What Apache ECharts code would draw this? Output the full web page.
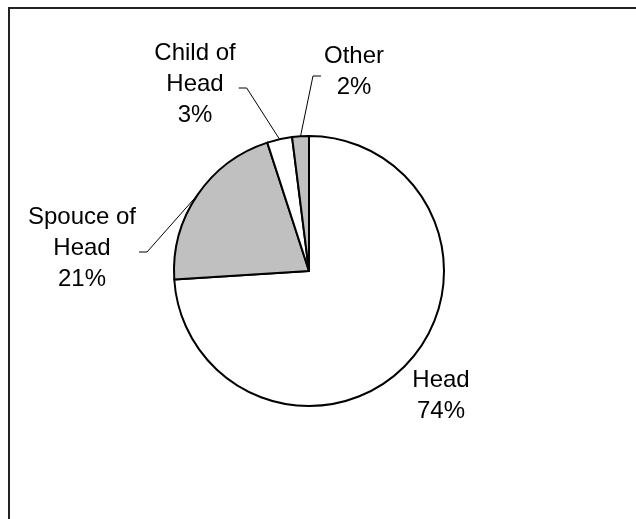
<!DOCTYPE html>
<html>
<head>
<meta charset="utf-8">
<style>
  html, body { margin: 0; padding: 0; background: #fff; }
  #chart { width: 636px; height: 519px; }
</style>
<script src="https://cdn.jsdelivr.net/npm/echarts@6/dist/echarts.min.js"></script>
</head>
<body>
<div id="chart"></div>
<script>
// Relationship to household head, share of persons
const categories = ['Head', 'Spouce of Head', 'Child of Head', 'Other'];
const values = [74, 21, 3, 2];
const sliceColors = ['#ffffff', '#c0c0c0', '#ffffff', '#c0c0c0'];

// Where each label block sits (centre of the text block)
const labelSpots = [
  [441, 396],
  [82, 248],
  [195, 84],
  [354, 72]
];

const chart = echarts.init(document.getElementById('chart'), null, { renderer: 'canvas' });

const pieData = categories.map((name, i) => ({
  name: name,
  value: values[i],
  itemStyle: { color: sliceColors[i] },
  labelLine: { show: i !== 0 }
}));

chart.setOption({
  animation: false,
  backgroundColor: '#ffffff',
  graphic: [{
    type: 'rect',
    shape: { x: 9, y: 8, width: 800, height: 700 },
    style: { fill: 'none', stroke: '#222', lineWidth: 2 },
    silent: true
  }],
  series: [{
    type: 'pie',
    center: [309, 271],
    radius: 135,
    startAngle: 90,
    clockwise: true,
    avoidLabelOverlap: false,
    data: pieData,
    itemStyle: { borderColor: '#000', borderWidth: 2 },
    emphasis: { disabled: true },
    label: {
      show: true,
      position: 'outside',
      fontFamily: 'Liberation Sans, Arial, sans-serif',
      fontSize: 24,
      lineHeight: 31,
      color: '#000',
      align: 'center',
      formatter: p => p.name.replace(' of ', ' of\n') + '\n' + Math.round(p.percent) + '%'
    },
    labelLine: {
      show: true,
      length: 20,
      length2: 9,
      lineStyle: { color: '#000', width: 1 }
    },
    labelLayout: p => {
      const [cx, cy] = labelSpots[p.dataIndex];
      const out = { x: cx, y: cy, align: 'center', verticalAlign: 'middle' };
      const pts = p.labelLinePoints;
      if (pts && pts.length) {
        // leader: slice edge -> short elbow -> side of the text block
        const anchor = pts[0];
        const side = anchor[0] < cx ? -1 : 1;
        const endX = cx + side * (p.labelRect.width / 2 + 3);
        const endY = cy + 4;
        out.labelLinePoints = [anchor, [endX + side * 8, endY], [endX, endY]];
      }
      return out;
    }
  }]
});
</script>
</body>
</html>
